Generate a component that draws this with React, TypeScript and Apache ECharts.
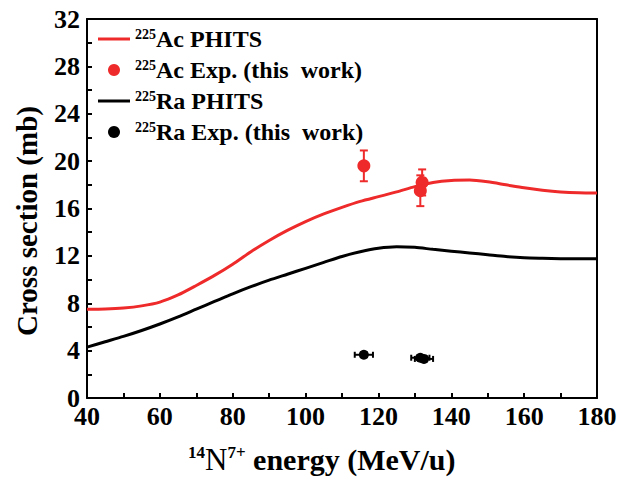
import React, { useEffect, useRef } from "react";
import * as echarts from "echarts";

const energies = [40, 45, 50, 55, 60, 65, 70, 75, 80, 85, 90, 95, 100, 105, 110, 115, 120, 125, 130, 135, 140, 145, 150, 155, 160, 165, 170, 175, 180];
const acPhits = [7.5, 7.52, 7.6, 7.78, 8.1, 8.7, 9.5, 10.35, 11.3, 12.35, 13.3, 14.15, 14.9, 15.55, 16.1, 16.6, 17.0, 17.4, 17.85, 18.2, 18.37, 18.4, 18.25, 18.0, 17.75, 17.55, 17.4, 17.32, 17.3];
const raPhits = [4.3, 4.75, 5.2, 5.7, 6.25, 6.85, 7.5, 8.15, 8.8, 9.4, 9.95, 10.45, 10.95, 11.45, 11.95, 12.35, 12.65, 12.78, 12.72, 12.55, 12.4, 12.25, 12.1, 11.95, 11.85, 11.8, 11.76, 11.75, 11.75];

const acExpE = [116, 132, 131.5];
const acExpV = [19.6, 18.2, 17.5];
const acExpVErr = [1.3, 1.1, 1.3];
const acExpEErr = [0, 0, 0];

const raExpE = [116, 131.5, 132.5];
const raExpV = [3.65, 3.4, 3.3];
const raExpVErr = [0.2, 0.2, 0.2];
const raExpEErr = [2.5, 2.5, 2.5];

const xTicks = [40, 60, 80, 100, 120, 140, 160, 180];
const yTicks = [0, 4, 8, 12, 16, 20, 24, 28, 32];

const legendNames = ["225Ac PHITS", "225Ac Exp. (this  work)", "225Ra PHITS", "225Ra Exp. (this  work)"];

const RED = "#ee2a2a";
const BLACK = "#000000";
const FONT = "'Liberation Serif', 'Times New Roman', serif";
const LINE_ICON = "path://M0,0 L32,0 L32,3 L0,3 Z";

function errData(e: number[], v: number[], ee: number[], ve: number[]) {
  return e.map((x, i) => [x, v[i], x - ee[i], x + ee[i], v[i] - ve[i], v[i] + ve[i]]);
}

function makeErrRender(color: string, cap: number) {
  return (params: any, api: any) => {
    const x = api.value(0);
    const y = api.value(1);
    const x0 = api.value(2);
    const x1 = api.value(3);
    const y0 = api.value(4);
    const y1 = api.value(5);
    const c = api.coord([x, y]);
    const top = api.coord([x, y1]);
    const bot = api.coord([x, y0]);
    const left = api.coord([x0, y]);
    const right = api.coord([x1, y]);
    const style = { stroke: color, lineWidth: 2 };
    const children: any[] = [];
    if (y1 > y0) {
      children.push({ type: "line", shape: { x1: c[0], y1: top[1], x2: c[0], y2: bot[1] }, style });
      children.push({ type: "line", shape: { x1: c[0] - cap, y1: top[1], x2: c[0] + cap, y2: top[1] }, style });
      children.push({ type: "line", shape: { x1: c[0] - cap, y1: bot[1], x2: c[0] + cap, y2: bot[1] }, style });
    }
    if (x1 > x0) {
      children.push({ type: "line", shape: { x1: left[0], y1: c[1], x2: right[0], y2: c[1] }, style });
      children.push({ type: "line", shape: { x1: left[0], y1: c[1] - 3, x2: left[0], y2: c[1] + 3 }, style });
      children.push({ type: "line", shape: { x1: right[0], y1: c[1] - 3, x2: right[0], y2: c[1] + 3 }, style });
    }
    return { type: "group", children };
  };
}

function legendFormatter(name: string) {
  const rest = name.replace(/^225/, "");
  return "{sup|225}{m|" + rest + "}";
}

export default function App() {
  const ref = useRef<HTMLDivElement>(null);
  useEffect(() => {
    if (!ref.current) return;
    const chart = echarts.init(ref.current, undefined, { renderer: "svg" });
    const axisCommon = {
      axisLine: { show: true, onZero: false, lineStyle: { color: BLACK, width: 2 } },
      splitLine: { show: false },
    };
    chart.setOption({
      animation: false,
      backgroundColor: "#ffffff",
      grid: { left: 87, top: 19, right: 23, bottom: 81, containLabel: false },
      legend: {
        orient: "vertical",
        left: 98,
        top: 27,
        padding: 0,
        itemWidth: 32,
        itemHeight: 12,
        itemGap: 7,
        data: [
          { name: legendNames[0], icon: LINE_ICON },
          { name: legendNames[1], icon: "circle" },
          { name: legendNames[2], icon: LINE_ICON },
          { name: legendNames[3], icon: "circle" },
        ],
        formatter: legendFormatter,
        textStyle: {
          fontFamily: FONT,
          color: BLACK,
          rich: {
            sup: { fontSize: 14, fontWeight: "bold", fontFamily: FONT, lineHeight: 14, verticalAlign: "top", color: BLACK },
            m: { fontSize: 24, fontWeight: "bold", fontFamily: FONT, lineHeight: 24, color: BLACK },
          },
        },
      },
      xAxis: [
        {
          type: "value",
          min: 40,
          max: 180,
          interval: 20,
          ...axisCommon,
          axisTick: { show: true, inside: true, length: 5, lineStyle: { width: 2, color: BLACK } },
          minorTick: { show: true, splitNumber: 2, length: 5, lineStyle: { width: 2, color: BLACK } },
          axisLabel: {
            margin: 5,
            color: BLACK,
            fontFamily: FONT,
            fontWeight: "bold",
            fontSize: 26,
            formatter: (v: number) => (xTicks.includes(v) ? String(v) : ""),
          },
        },
        {
          type: "value",
          position: "top",
          min: 40,
          max: 180,
          ...axisCommon,
          axisTick: { show: false },
          axisLabel: { show: false },
        },
      ],
      yAxis: [
        {
          type: "value",
          min: 0,
          max: 32,
          interval: 4,
          ...axisCommon,
          axisTick: { show: true, inside: true, length: 5, lineStyle: { width: 2, color: BLACK } },
          minorTick: { show: true, splitNumber: 2, length: 5, lineStyle: { width: 2, color: BLACK } },
          axisLabel: {
            margin: 7,
            color: BLACK,
            fontFamily: FONT,
            fontWeight: "bold",
            fontSize: 26,
            formatter: (v: number) => (yTicks.includes(v) ? String(v) : ""),
          },
        },
        {
          type: "value",
          position: "right",
          min: 0,
          max: 32,
          ...axisCommon,
          axisTick: { show: false },
          axisLabel: { show: false },
        },
      ],
      graphic: [
        {
          type: "text",
          x: 27,
          y: 221,
          rotation: Math.PI / 2,
          style: {
            text: "Cross section (mb)",
            fontFamily: FONT,
            fontWeight: "bold",
            fontSize: 29,
            fill: BLACK,
            align: "center",
            verticalAlign: "middle",
          },
        },
        {
          type: "text",
          x: 188,
          y: 459,
          style: {
            text: "{sup|14}{n|N}{sup|7+}{m| energy (MeV/u)}",
            align: "left",
            verticalAlign: "middle",
            fill: BLACK,
            rich: {
              sup: { fontSize: 17, fontWeight: "bold", fontFamily: FONT, lineHeight: 16, verticalAlign: "top", fill: BLACK },
              n: { fontSize: 31, fontWeight: "normal", fontFamily: FONT, lineHeight: 30, fill: BLACK },
              m: { fontSize: 30, fontWeight: "bold", fontFamily: FONT, lineHeight: 30, fill: BLACK },
            },
          },
        },
      ],
      series: [
        {
          name: legendNames[0],
          type: "line",
          smooth: 0.25,
          symbol: "none",
          data: energies.map((e, i) => [e, acPhits[i]]),
          lineStyle: { color: RED, width: 3 },
          itemStyle: { color: RED },
          z: 2,
        },
        {
          name: legendNames[2],
          type: "line",
          smooth: 0.25,
          symbol: "none",
          data: energies.map((e, i) => [e, raPhits[i]]),
          lineStyle: { color: BLACK, width: 3 },
          itemStyle: { color: BLACK },
          z: 2,
        },
        {
          name: "acErr",
          type: "custom",
          renderItem: makeErrRender(RED, 4),
          encode: { x: [0, 2, 3], y: [1, 4, 5] },
          data: errData(acExpE, acExpV, acExpEErr, acExpVErr),
          z: 3,
        },
        {
          name: "raErr",
          type: "custom",
          renderItem: makeErrRender(BLACK, 4),
          encode: { x: [0, 2, 3], y: [1, 4, 5] },
          data: errData(raExpE, raExpV, raExpEErr, raExpVErr),
          z: 3,
        },
        {
          name: legendNames[1],
          type: "scatter",
          symbol: "circle",
          symbolSize: 13,
          data: acExpE.map((e, i) => [e, acExpV[i]]),
          itemStyle: { color: RED, opacity: 1 },
          z: 4,
        },
        {
          name: legendNames[3],
          type: "scatter",
          symbol: "circle",
          symbolSize: 10,
          data: raExpE.map((e, i) => [e, raExpV[i]]),
          itemStyle: { color: BLACK, opacity: 1 },
          z: 4,
        },
      ],
    });
    return () => chart.dispose();
  }, []);
  return <div ref={ref} style={{ width: 620, height: 479, position: "absolute", left: 0, top: 0 }} />;
}
